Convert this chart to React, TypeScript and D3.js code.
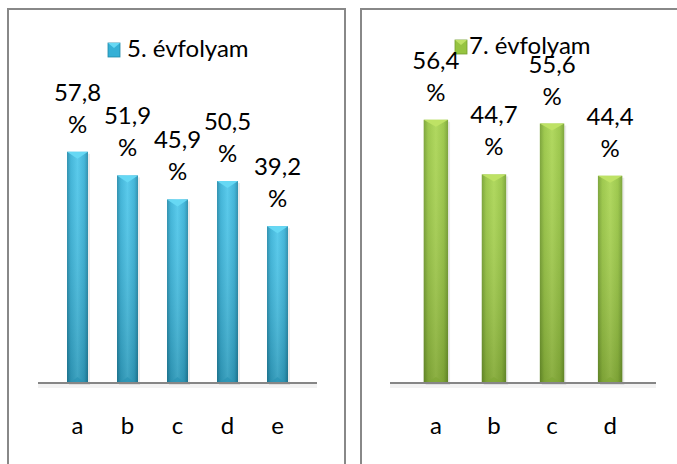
import React from 'react'
import * as d3 from 'd3'

// data
const grade5Cats = ['a', 'b', 'c', 'd', 'e']
const grade5Values = [57.8, 51.9, 45.9, 50.5, 39.2]
const grade7Cats = ['a', 'b', 'c', 'd']
const grade7Values = [56.4, 44.7, 55.6, 44.4]
const legendNames = ['5. évfolyam', '7. évfolyam']

const FONT = 'Lato, "Noto Sans", sans-serif'
const FS = 24

type Palette = { dark: string; mid: string; light: string; bevel: string; bottom: string; id: string }

const blue: Palette = { dark: '#2289a9', mid: '#35b0d6', light: '#4cc6ea', bevel: '#66d8f4', bottom: '#2a93b3', id: 'blue' }
const green: Palette = { dark: '#739e2e', mid: '#96c440', light: '#aad552', bevel: '#bee265', bottom: '#7fa736', id: 'green' }

function Gradients({ p }: { p: Palette }) {
  return (
    <>
      <linearGradient id={`body-${p.id}`} x1="0" x2="1" y1="0" y2="0">
        <stop offset="0" stopColor={p.dark} />
        <stop offset="0.18" stopColor={p.mid} />
        <stop offset="0.5" stopColor={p.light} />
        <stop offset="0.82" stopColor={p.mid} />
        <stop offset="1" stopColor={p.dark} />
      </linearGradient>
      <linearGradient id={`shade-${p.id}`} x1="0" x2="0" y1="0" y2="1">
        <stop offset="0" stopColor="#ffffff" stopOpacity="0.08" />
        <stop offset="1" stopColor="#000000" stopOpacity="0.18" />
      </linearGradient>
    </>
  )
}

function Panel(props: {
  left: number
  width: number
  axisX0: number
  axisX1: number
  yMax: number
  cats: string[]
  values: number[]
  name: string
  legendX: number
  legendY: number
  legendGap: number
  p: Palette
}) {
  const { cats, values, p } = props
  const axisY = 383
  const plotTop = 103
  const x = d3.scaleBand<string>().domain(cats).range([props.axisX0, props.axisX1]).padding(0.58)
  const y = d3.scaleLinear().domain([0, props.yMax]).range([axisY, plotTop])
  const bw = x.bandwidth()
  const fmt = (v: number) => d3.format('.1f')(v).replace('.', ',')

  return (
    <g>
      <rect x={props.left} y={9} width={props.width} height={470} fill="#fff" stroke="#888" strokeWidth={2} />
      {/* legend */}
      <rect x={props.legendX} y={props.legendY - 14} width={12} height={14} fill={p.mid} stroke={p.dark} strokeWidth={0.8} />
      <path
        d={`M${props.legendX},${props.legendY - 14}L${props.legendX + 12},${props.legendY - 14}L${props.legendX + 6},${props.legendY - 9}Z`}
        fill={p.bevel}
      />
      <text x={props.legendX + props.legendGap} y={props.legendY} fontFamily={FONT} fontSize={FS} fill="#000">
        {props.name}
      </text>

      {/* axis shadow + line */}
      <rect x={props.axisX0} y={axisY + 1} width={props.axisX1 - props.axisX0} height={4} fill="#000" opacity={0.05} />
      {cats.map((c, i) => {
        const x0 = x(c)!
        const top = y(values[i])
        const cx = x0 + bw / 2
        return (
          <g key={c}>
            <rect x={x0 + 2} y={top + 2} width={bw} height={axisY - top} fill="#000" opacity={0.08} />
            <rect x={x0} y={top} width={bw} height={axisY - top} fill={`url(#body-${p.id})`} />
            <rect x={x0} y={top} width={bw} height={axisY - top} fill={`url(#shade-${p.id})`} />
            <path d={`M${x0},${top}L${x0 + bw},${top}L${cx},${top + 7}Z`} fill={p.bevel} />
            <path d={`M${x0 + 3},${axisY}L${x0 + bw - 3},${axisY}L${cx},${axisY - 6}Z`} fill={p.bottom} opacity={0.7} />
            <text x={cx} y={top - 51} textAnchor="middle" fontFamily={FONT} fontSize={FS} fill="#000">
              {fmt(values[i])}
            </text>
            <text x={cx} y={top - 19} textAnchor="middle" fontFamily={FONT} fontSize={FS} fill="#000">
              %
            </text>
            <text x={cx} y={434} textAnchor="middle" fontFamily={FONT} fontSize={FS} fill="#000">
              {c}
            </text>
          </g>
        )
      })}
      <line x1={props.axisX0} x2={props.axisX1} y1={axisY} y2={axisY} stroke="#868686" strokeWidth={2} />
    </g>
  )
}

export default function App() {
  return (
    <svg width={677} height={464} style={{ position: 'absolute', left: 0, top: 0, background: '#fff' }}>
      <defs>
        <Gradients p={blue} />
        <Gradients p={green} />
      </defs>
      <Panel
        left={8}
        width={337}
        axisX0={38}
        axisX1={317}
        yMax={70}
        cats={grade5Cats}
        values={grade5Values}
        name={legendNames[0]}
        legendX={108}
        legendY={57}
        legendGap={19}
        p={blue}
      />
      <Panel
        left={361}
        width={330}
        axisX0={390}
        axisX1={656}
        yMax={60}
        cats={grade7Cats}
        values={grade7Values}
        name={legendNames[1]}
        legendX={455}
        legendY={54}
        legendGap={14}
        p={green}
      />
    </svg>
  )
}
